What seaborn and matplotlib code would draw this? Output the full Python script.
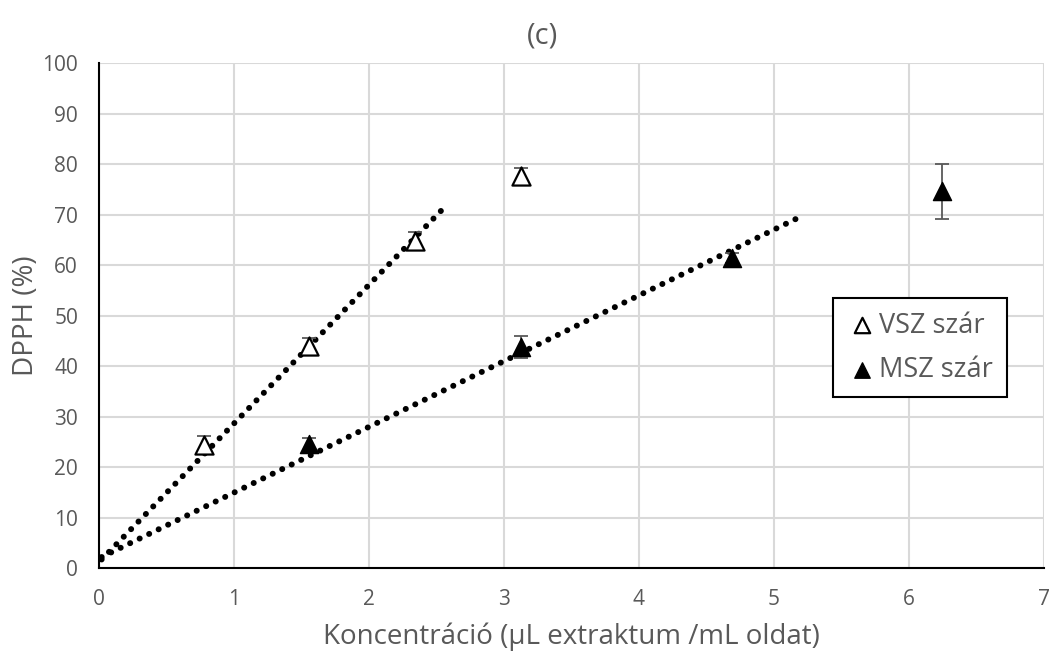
import numpy as np
import pandas as pd
import seaborn as sns
from matplotlib import pyplot as plt

# adatok (leolvasva az ábráról)
vsz_x = [0.78, 1.56, 2.34, 3.125]
vsz_y = [24.4, 44.0, 64.8, 77.7]
vsz_err = [1.7, 1.5, 1.8, 1.5]

msz_x = [1.56, 3.125, 4.69, 6.25]
msz_y = [24.6, 43.8, 61.4, 74.6]
msz_err = [1.1, 2.1, 1.0, 5.5]

# trendvonal: origó + az első pontok
vsz_fit_x = [0.0, 0.78, 1.56, 2.34]
vsz_fit_y = [0.0, 24.4, 44.0, 64.8]
msz_fit_x = [0.0, 1.56, 3.125, 4.69]
msz_fit_y = [0.0, 24.6, 43.8, 61.4]
vsz_trend_range = [0.02, 2.56]
msz_trend_range = [0.02, 5.2]

x_ticks = [0, 1, 2, 3, 4, 5, 6, 7]
y_ticks = [0, 10, 20, 30, 40, 50, 60, 70, 80, 90, 100]

GRAY = '#595959'


def trend(fx, fy, rng):
    b1, b0 = np.polyfit(fx, fy, 1)
    xs = np.linspace(rng[0], rng[1], 50)
    return pd.DataFrame({'x': xs, 'y': b0 + b1 * xs})


def plot():
    sns.set_style('whitegrid', {'grid.color': '#d9d9d9', 'axes.edgecolor': 'black'})
    plt.rcParams['font.family'] = ['Open Sans', 'DejaVu Sans']

    fig, axes = plt.subplots(figsize=(10.52, 6.57), dpi=100)
    fig.subplots_adjust(left=0.094, right=0.992, bottom=0.135, top=0.904)

    # trendvonalak (pontozott)
    for fx, fy, rng in [(vsz_fit_x, vsz_fit_y, vsz_trend_range),
                        (msz_fit_x, msz_fit_y, msz_trend_range)]:
        sns.lineplot(data=trend(fx, fy, rng), x='x', y='y', color='black',
                     linewidth=4.3, legend=False, ax=axes)
    for ln in axes.lines:
        ln.set_dash_capstyle('round')
        ln.set_linestyle((0, (0.02, 1.75)))

    # hibasávok
    axes.errorbar(vsz_x, vsz_y, yerr=vsz_err, fmt='none', ecolor=GRAY,
                  elinewidth=1.3, capsize=5, capthick=1.3, zorder=3)
    axes.errorbar(msz_x, msz_y, yerr=msz_err, fmt='none', ecolor=GRAY,
                  elinewidth=1.3, capsize=5, capthick=1.3, zorder=3)

    # pontok
    sns.scatterplot(x=vsz_x, y=vsz_y, marker='^', s=170, color='white',
                    edgecolor='black', linewidth=1.6, label='VSZ szár', zorder=4, ax=axes)
    sns.scatterplot(x=msz_x, y=msz_y, marker='^', s=170, color='black',
                    edgecolor='black', linewidth=1.0, label='MSZ szár', zorder=4, ax=axes)

    axes.set_xlim(0, 7)
    axes.set_ylim(0, 100)
    axes.set_xticks(x_ticks)
    axes.set_yticks(y_ticks)
    axes.grid(True, linewidth=1.5)
    axes.tick_params(axis='both', length=0, labelsize=15, labelcolor=GRAY)
    axes.tick_params(axis='x', pad=15)
    axes.tick_params(axis='y', pad=15)
    for side in ['top', 'right']:
        axes.spines[side].set_visible(False)
    for side in ['left', 'bottom']:
        axes.spines[side].set_linewidth(1.5)
        axes.spines[side].set_color('black')

    axes.set_title('(c)', fontsize=21, color=GRAY, pad=14, x=0.47)
    axes.set_xlabel('Koncentráció (µL extraktum /mL oldat)', fontsize=20, color=GRAY, labelpad=9)
    axes.set_ylabel('DPPH (%)', fontsize=20, color=GRAY, labelpad=2)

    leg = axes.legend(loc='upper right', bbox_to_anchor=(0.961, 0.535), fontsize=19.5,
                      frameon=True, fancybox=False, framealpha=1, edgecolor='black',
                      handletextpad=0.1, borderpad=0.5, labelspacing=0.6, markerscale=0.85,
                      labelcolor=GRAY, handlelength=1.1, borderaxespad=0)
    leg.get_frame().set_linewidth(1.5)

    plt.savefig('out.png', dpi=100)


if __name__ == '__main__':
    plot()
